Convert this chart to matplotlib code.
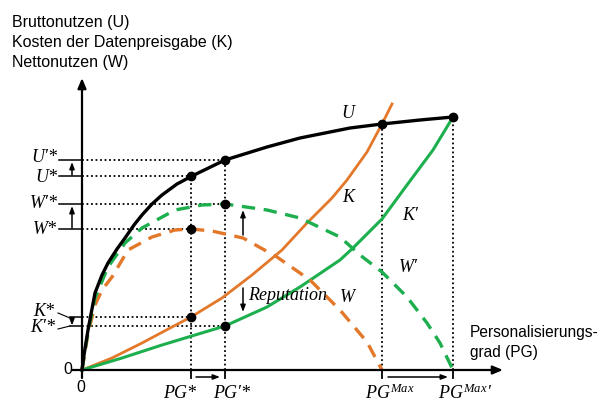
import matplotlib
matplotlib.use("Agg")
import matplotlib.pyplot as plt

plt.rcParams['mathtext.fontset'] = 'custom'
plt.rcParams['mathtext.it'] = 'Liberation Serif:italic'
plt.rcParams['mathtext.rm'] = 'Liberation Serif'

# curves (x = personalisation degree, y = utility / cost)
u_x = [0, 2, 6, 13, 20, 26, 35, 43, 52, 60, 70, 80, 95, 110, 143, 185, 218, 268, 300, 338, 371]
u_y = [0, 15, 40, 77, 95, 107, 121, 132, 145, 155, 166, 175, 186, 194, 210, 223, 232, 242, 246, 250, 253]

k_x = [0, 30, 60, 90, 109, 140, 170, 200, 225, 250, 265, 285, 300, 310]
k_y = [0, 12, 27, 43, 53, 72, 95, 120, 147, 172, 190, 218, 246, 266]

k2_x = [0, 40, 80, 123, 143, 185, 218, 258, 271, 300, 325, 351, 371]
k2_y = [0, 12, 25, 38, 44, 63, 83, 110, 122, 151, 185, 220, 253]

w_x = [0, 3, 6, 13, 20, 30, 46, 70, 93, 109, 130, 161, 195, 228, 258, 285, 300]
w_y = [0, 18, 36, 65, 80, 93, 120, 133, 140, 141, 139, 132, 113, 90, 60, 28, 0]

w2_x = [0, 3, 6, 13, 26, 43, 60, 93, 120, 143, 185, 218, 258, 278, 300, 325, 345, 358, 371]
w2_y = [0, 20, 38, 72, 103, 127, 142, 160, 165, 166, 160, 152, 133, 115, 98, 73, 47, 27, 0]

# marked points
pg_star, pg2_star, pg_max, pg2_max = 109, 143, 300, 371
u_star, u2_star = 194, 210
w_star, w2_star = 141, 166
k_star, k2_star = 53, 44
u_at_max, u_at_max2 = 246, 253

orange = '#E4782A'
green = '#1DAF4E'
serif_it = dict(family='Liberation Serif', style='italic')
sans = dict(family='Liberation Sans')

fig = plt.figure(figsize=(6, 4.03), dpi=100)
ax = fig.add_axes([0, 0, 1, 1])
ax.set_xlim(-82, 518)
ax.set_ylim(-33, 370)
ax.axis('off')

# dotted guides
dot = dict(color='black', lw=1.3, ls=(0, (1, 1.5)), zorder=1)
ax.plot([0, pg_star], [u_star, u_star], **dot)
ax.plot([0, pg2_star], [u2_star, u2_star], **dot)
ax.plot([0, pg_star], [w_star, w_star], **dot)
ax.plot([0, pg2_star], [w2_star, w2_star], **dot)
ax.plot([0, pg_star], [k_star, k_star], **dot)
ax.plot([0, pg2_star], [k2_star, k2_star], **dot)
ax.plot([pg_star, pg_star], [0, u_star], **dot)
ax.plot([pg2_star, pg2_star], [0, u2_star], **dot)
ax.plot([pg_max, pg_max], [0, u_at_max], **dot)
ax.plot([pg2_max, pg2_max], [0, u_at_max2], **dot)

# curves
ax.plot(k_x, k_y, color=orange, lw=2, zorder=3)
ax.plot(k2_x, k2_y, color=green, lw=2.2, zorder=3)
ax.plot(w_x, w_y, color=orange, lw=2.4, ls=(0, (4, 2.6)), zorder=3)
ax.plot(w2_x, w2_y, color=green, lw=2.4, ls=(0, (4, 2.6)), zorder=3)
ax.plot(u_x, u_y, color='black', lw=2.4, zorder=4, solid_joinstyle='round')

# points
px = [pg_star, pg_star, pg_star, pg2_star, pg2_star, pg2_star, pg_max, pg2_max]
py = [u_star, w_star, k_star, u2_star, w2_star, k2_star, u_at_max, u_at_max2]
ax.plot(px, py, 'o', color='black', ms=6, zorder=5)

# axes with arrows
arr = dict(arrowstyle='-|>,head_length=0.6,head_width=0.25', color='black', lw=1.6,
           shrinkA=0, shrinkB=0)
ax.annotate('', xy=(421, 0), xytext=(-10, 0), arrowprops=arr)
ax.annotate('', xy=(0, 292), xytext=(0, -8), arrowprops=arr)

# ticks on x axis
for x in [pg_star, pg2_star, pg_max, pg2_max]:
    ax.plot([x, x], [0, -8], color='black', lw=1.3)

# ticks on y axis
for y in [u_star, u2_star, w_star, w2_star]:
    ax.plot([-23, 0], [y, y], color='black', lw=1.1)
for y in [k_star, k2_star]:
    ax.plot([-12, 0], [y, y], color='black', lw=1.1)
ax.plot([-24, -12], [57, k_star - 1], color='black', lw=0.8)
ax.plot([-24, -12], [41, k2_star], color='black', lw=0.8)

# small shift arrows
sarr = dict(arrowstyle='-|>,head_length=0.4,head_width=0.15', color='black', lw=1.1,
            shrinkA=0, shrinkB=0)
ax.annotate('', xy=(-10, u2_star - 2), xytext=(-10, u_star + 1), arrowprops=sarr)
ax.annotate('', xy=(-10, w2_star - 2), xytext=(-10, w_star + 1), arrowprops=sarr)
ax.annotate('', xy=(-10, k2_star + 0.5), xytext=(-10, k_star - 1), arrowprops=sarr)
ax.annotate('', xy=(161, 160), xytext=(161, 135), arrowprops=sarr)
ax.annotate('', xy=(161, 58), xytext=(161, 82), arrowprops=sarr)
ax.annotate('', xy=(138, -7), xytext=(114, -7), arrowprops=sarr)
ax.annotate('', xy=(366, -7), xytext=(306, -7), arrowprops=sarr)

# labels
mfs = 13
ax.text(-25, u2_star + 2, "U\u2032*", ha='right', va='center', fontsize=mfs, **serif_it)
ax.text(-25, u_star - 1, "U*", ha='right', va='center', fontsize=mfs, **serif_it)
ax.text(-24, w2_star + 1, "W\u2032*", ha='right', va='center', fontsize=mfs, **serif_it)
ax.text(-25, w_star - 1, "W*", ha='right', va='center', fontsize=mfs, **serif_it)
ax.text(-28, 59, "K*", ha='right', va='center', fontsize=mfs, **serif_it)
ax.text(-27, 42, "K\u2032*", ha='right', va='center', fontsize=mfs, **serif_it)

ax.text(266, 257, "U", ha='center', va='center', fontsize=mfs, **serif_it)
ax.text(266, 172, "K", ha='center', va='center', fontsize=mfs, **serif_it)
ax.text(328, 155, "K\u2032", ha='center', va='center', fontsize=mfs, **serif_it)
ax.text(326, 102, "W\u2032", ha='center', va='center', fontsize=mfs, **serif_it)
ax.text(265, 72, "W", ha='center', va='center', fontsize=mfs, **serif_it)
ax.text(166, 75, "Reputation", ha='left', va='center', fontsize=13, **serif_it)

ax.text(98, -23, "PG*", ha='center', va='center', fontsize=mfs, **serif_it)
ax.text(150, -23, "PG\u2032*", ha='center', va='center', fontsize=mfs, **serif_it)
ax.text(308, -23, r"$PG^{Max}$", ha='center', va='center', fontsize=mfs)
ax.text(383, -23, r"$PG^{Max}$" + "\u2032", ha='center', va='center', fontsize=mfs, **serif_it)

ax.text(-14, 0, "0", ha='center', va='center', fontsize=11.5, **sans)
ax.text(-1, -18, "0", ha='center', va='center', fontsize=11.5, **sans)

sfs = 11.5
ax.text(-70, 348, "Bruttonutzen (U)", ha='left', va='center', fontsize=sfs, **sans)
ax.text(-70, 328, "Kosten der Datenpreisgabe (K)", ha='left', va='center', fontsize=sfs, **sans)
ax.text(-70, 308, "Nettonutzen (W)", ha='left', va='center', fontsize=sfs, **sans)
ax.text(388, 38, "Personalisierungs-", ha='left', va='center', fontsize=11.2, **sans)
ax.text(388, 17, "grad (PG)", ha='left', va='center', fontsize=11.2, **sans)

fig.savefig('out.png', dpi=100)
